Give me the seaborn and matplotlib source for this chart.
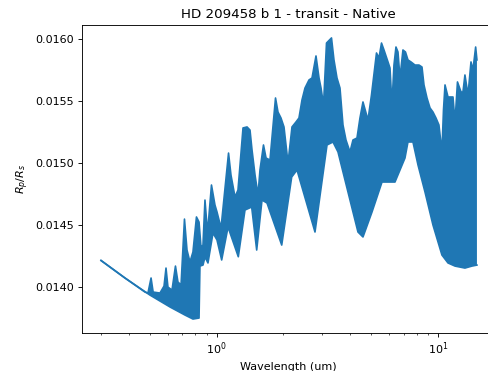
import numpy as np
import matplotlib
matplotlib.use("Agg")
import matplotlib.pyplot as plt
import matplotlib.ticker as ticker
import seaborn as sns

# Upper edge of the (dense) spectrum
wl_upper = [0.30, 0.385, 0.474, 0.489, 0.505, 0.516, 0.554, 0.578, 0.590, 0.602,
            0.628, 0.651, 0.668, 0.690, 0.715, 0.734, 0.757, 0.781, 0.810, 0.832,
            0.849, 0.867, 0.885, 0.909, 0.947, 0.982, 1.003, 1.046, 1.131, 1.160,
            1.210, 1.248, 1.315, 1.371, 1.414, 1.444, 1.490, 1.537, 1.569, 1.627,
            1.671, 1.741, 1.844, 1.892, 1.952, 2.014, 2.100, 2.189, 2.282, 2.354,
            2.429, 2.506, 2.613, 2.696, 2.810, 2.900, 2.961, 3.039, 3.135, 3.302,
            3.388, 3.496, 3.607, 3.721, 3.839, 4.002, 4.129, 4.305, 4.441, 4.582,
            4.827, 5.006, 5.274, 5.413, 5.556, 5.702, 5.944, 6.069, 6.196, 6.326,
            6.459, 6.595, 6.733, 6.946, 7.130, 7.317, 7.551, 7.871, 8.206, 8.467,
            8.645, 8.920, 9.204, 9.494, 9.795, 10.10, 10.42, 10.59, 10.76, 11.10,
            11.69, 11.94, 12.25, 12.71, 12.97, 13.24, 13.67, 14.10, 14.39, 14.80,
            15.0]
rp_upper = [0.014216, 0.014075, 0.013962, 0.013954, 0.014075, 0.013962, 0.013954, 0.014010, 0.014155, 0.014002,
            0.013978, 0.014171, 0.014043, 0.014019, 0.014549, 0.014300, 0.014204, 0.014284, 0.014566, 0.014525,
            0.014324, 0.014340, 0.014702, 0.014437, 0.014823, 0.014662, 0.014606, 0.014477, 0.015080, 0.014903,
            0.014726, 0.014783, 0.015282, 0.015290, 0.015265, 0.015105, 0.014903, 0.014743, 0.014944, 0.015145,
            0.015040, 0.015024, 0.015523, 0.015410, 0.015362, 0.015290, 0.015000, 0.015290, 0.015330, 0.015362,
            0.015507, 0.015603, 0.015668, 0.015684, 0.015861, 0.015684, 0.015603, 0.015467, 0.015965, 0.016006,
            0.015829, 0.015684, 0.015603, 0.015306, 0.015185, 0.015089, 0.015185, 0.015201, 0.015362, 0.015491,
            0.015346, 0.015547, 0.015885, 0.015845, 0.015965, 0.015909, 0.015813, 0.015764, 0.015467, 0.015788,
            0.015933, 0.015893, 0.015684, 0.015909, 0.015893, 0.015829, 0.015813, 0.015788, 0.015788, 0.015772,
            0.015628, 0.015523, 0.015443, 0.015410, 0.015362, 0.015306, 0.015089, 0.015426, 0.015628, 0.015531,
            0.015531, 0.015330, 0.015652, 0.015571, 0.015571, 0.015708, 0.015547, 0.015813, 0.015748, 0.015933,
            0.015829]

# Lower edge of the spectrum
wl_lower = [0.30, 0.385, 0.499, 0.615, 0.719, 0.781, 0.832, 0.840, 0.867, 0.885,
            0.913, 0.962, 1.003, 1.053, 1.125, 1.252, 1.342, 1.439, 1.516, 1.602,
            1.688, 1.967, 2.182, 2.306, 2.781, 3.151, 3.354, 3.533, 3.920, 4.350,
            4.582, 5.033, 5.585, 6.392, 7.093, 7.317, 7.709, 8.124, 8.736, 9.494,
            10.42, 11.10, 11.94, 13.24, 14.24, 15.0]
rp_lower = [0.014216, 0.014075, 0.013938, 0.013842, 0.013777, 0.013745, 0.013753, 0.014171, 0.014179, 0.014244,
            0.014196, 0.014437, 0.014381, 0.014220, 0.014485, 0.014246, 0.014622, 0.014646, 0.014300, 0.014702,
            0.014678, 0.014340, 0.014887, 0.014944, 0.014445, 0.015145, 0.015169, 0.015089, 0.014767, 0.014445,
            0.014405, 0.014606, 0.014847, 0.014847, 0.015040, 0.015169, 0.015169, 0.014984, 0.014767, 0.014501,
            0.014260, 0.014196, 0.014171, 0.014155, 0.014171, 0.014179]

title = "HD 209458 b 1 - transit - Native"

fig = plt.figure(figsize=(6.1, 4.6375), dpi=80)
# the original is cut off on the right, so the axes run up to the image edge
ax = fig.add_axes([0.168, 0.1032, 0.832, 0.8294])

color = "#1f77b4"
# the band between the two edges
ax.fill(np.concatenate([wl_upper, wl_lower[::-1]]),
        np.concatenate([rp_upper, rp_lower[::-1]]),
        color=color, lw=0)
sns.lineplot(x=wl_upper, y=rp_upper, ax=ax, color=color, linewidth=1.5, estimator=None)
sns.lineplot(x=wl_lower, y=rp_lower, ax=ax, color=color, linewidth=1.5, estimator=None)

ax.set_xscale("log")
ax.set_xlim(0.2461, 16.83)
ax.set_ylim(0.013635, 0.01611)
ax.yaxis.set_major_locator(ticker.MultipleLocator(0.0005))
ax.yaxis.set_major_formatter(ticker.FormatStrFormatter("%.4f"))
ax.spines["right"].set_visible(False)

# centred on the full (cut off) axes width of the original
ax.set_title(title, x=0.509)
ax.set_xlabel("Wavelength (um)", x=0.509)
ax.set_ylabel(r"$R_p/R_s$")

fig.savefig("out.png", dpi=80)
